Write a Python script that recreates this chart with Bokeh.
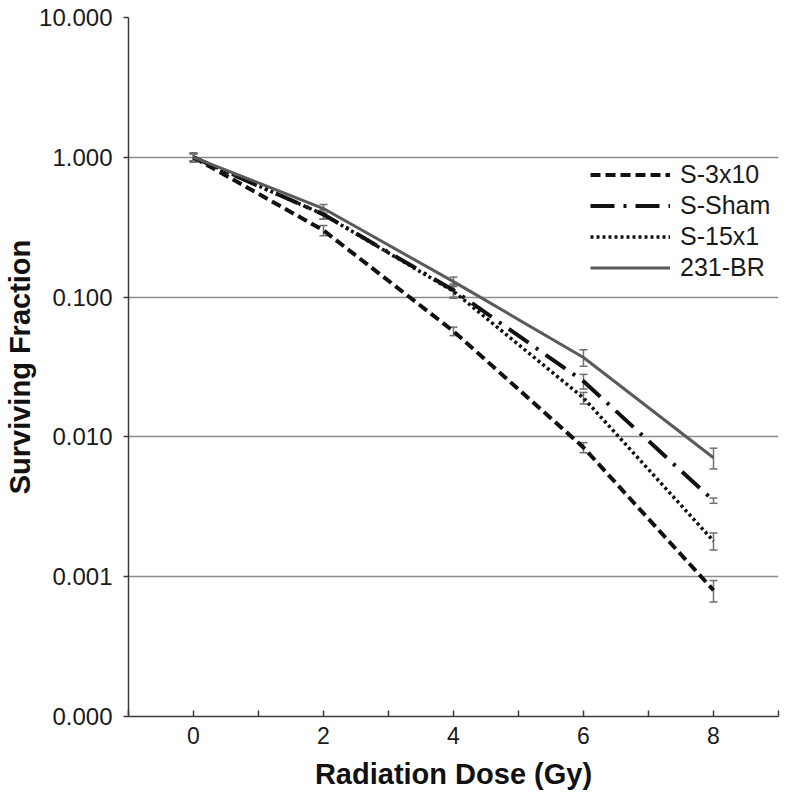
from bokeh.plotting import figure
from bokeh.models import (Range1d, FixedTicker, PrintfTickFormatter, Legend, LegendItem,
                          ColumnDataSource, Whisker, TeeHead)
from bokeh.embed import file_html
from bokeh.resources import INLINE

# ---- data ----
dose = [0, 2, 4, 6, 8]
series_names = ["S-3x10", "S-Sham", "S-15x1", "231-BR"]
s3x10 = [1.0, 0.30, 0.057, 0.0084, 0.00080]
s3x10_err = [0.06, 0.025, 0.004, 0.0007, 0.00014]
ssham = [1.0, 0.39, 0.112, 0.025, 0.0035]
ssham_err = [0.06, 0.03, 0.012, 0.003, 0.00015]
s15x1 = [1.0, 0.39, 0.110, 0.019, 0.0018]
s15x1_err = [0.06, 0.03, 0.012, 0.0018, 0.00025]
br231 = [1.0, 0.43, 0.129, 0.037, 0.0071]
br231_err = [0.08, 0.03, 0.01, 0.005, 0.0012]
y_ticks = [0.0001, 0.001, 0.01, 0.1, 1, 10]
x_ticks = [0, 2, 4, 6, 8]
x_minor = [-1, 1, 3, 5, 7, 9]

FONT = "Liberation Sans"

p = figure(width=786, height=792, y_axis_type="log",
           x_range=Range1d(-1, 9), y_range=Range1d(0.0001, 10),
           output_backend="svg", toolbar_location=None,
           min_border_left=128, min_border_right=8, min_border_top=17, min_border_bottom=76)
p.outline_line_color = None
p.xgrid.grid_line_color = None
p.ygrid.grid_line_color = "#8c8c8c"
p.ygrid.grid_line_width = 1.5

p.yaxis.ticker = FixedTicker(ticks=y_ticks, minor_ticks=[])
p.yaxis.formatter = PrintfTickFormatter(format="%.3f")
p.xaxis.ticker = FixedTicker(ticks=x_ticks, minor_ticks=x_minor)

for ax in (p.xaxis[0], p.yaxis[0]):
    ax.axis_line_color = "#3a3a3a"
    ax.axis_line_width = 1.5
    ax.major_tick_line_color = "#3a3a3a"
    ax.minor_tick_line_color = "#3a3a3a"
    ax.major_tick_line_width = 1.5
    ax.minor_tick_line_width = 1.5
    ax.major_label_text_font = FONT
    ax.major_label_text_color = "#1a1a1a"
    ax.axis_label_text_font = FONT
    ax.axis_label_text_font_style = "bold"
    ax.axis_label_text_font_size = "29px"
    ax.axis_label_text_color = "#111111"

p.yaxis.major_label_text_font_size = "24px"
p.yaxis.major_tick_out = 5
p.yaxis.major_tick_in = 0
p.yaxis.major_label_standoff = 11
p.yaxis.axis_label = "Surviving Fraction"
p.yaxis.axis_label_standoff = 0

p.xaxis.major_label_text_font_size = "23px"
p.xaxis.major_tick_out = 0
p.xaxis.major_tick_in = 6
p.xaxis.minor_tick_out = 0
p.xaxis.minor_tick_in = 6
p.xaxis.major_label_standoff = 10
p.xaxis.axis_label = "Radiation Dose (Gy)"
p.xaxis.axis_label_standoff = 11

styles = [
    (s3x10, s3x10_err, "#111111", 4, "10 5"),
    (ssham, ssham_err, "#111111", 4, "24 9 3 9"),
    (s15x1, s15x1_err, "#111111", 3.5, "3 3"),
    (br231, br231_err, "#5a5a5a", 3, "solid"),
]

items = []
for name, (vals, errs, color, lw, dash) in zip(series_names, styles):
    r = p.line(dose, vals, line_color=color, line_width=lw, line_dash=dash)
    items.append(LegendItem(label=name, renderers=[r]))
    src = ColumnDataSource(dict(x=dose,
                                upper=[v + e for v, e in zip(vals, errs)],
                                lower=[v - e for v, e in zip(vals, errs)]))
    w = Whisker(base="x", upper="upper", lower="lower", source=src, dimension="height",
                line_color="#707070", line_width=1.5,
                upper_head=TeeHead(size=8, line_color="#707070", line_width=1.5),
                lower_head=TeeHead(size=8, line_color="#707070", line_width=1.5))
    p.add_layout(w)

legend = Legend(items=items, location=(462, 433), padding=0, margin=0, spacing=0,
                glyph_width=80, glyph_height=31, label_height=31, label_standoff=10,
                label_text_font=FONT, label_text_font_size="25px", label_text_color="#1a1a1a",
                border_line_alpha=0, background_fill_alpha=0)
p.add_layout(legend, "center")

open("out.html", "w").write(file_html(p, INLINE))
